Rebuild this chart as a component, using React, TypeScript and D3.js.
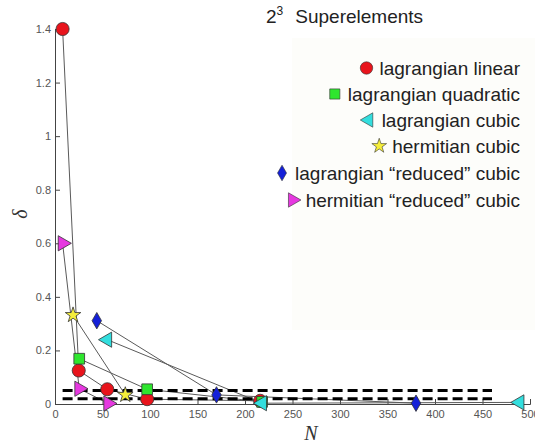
import React, { useEffect, useRef } from 'react';
import * as d3 from 'd3';

// values: [N, delta]
const linearPts = [[8, 1.4], [25, 0.125], [55, 0.055], [97, 0.018], [216, 0.012]];
const quadraticPts = [[25.5, 0.169], [97, 0.055], [218, 0.008]];
const cubicPts = [[55, 0.24], [218, 0.003], [489, 0.006]];
const hermitePts = [[19, 0.332], [74, 0.034]];
const redCubicPts = [[44, 0.311], [170, 0.034], [380, 0.003]];
const redHermitePts = [[8, 0.6], [25.5, 0.057], [56, 0.002]];

const seriesNames = [
  'lagrangian linear',
  'lagrangian quadratic',
  'lagrangian cubic',
  'hermitian cubic',
  'lagrangian \u201creduced\u201d cubic',
  'hermitian \u201creduced\u201d cubic',
];
const thresholds = [0.05, 0.02];
const xTicks = [0, 50, 100, 150, 200, 250, 300, 350, 400, 450, 500];
const yTicks = [0, 0.2, 0.4, 0.6, 0.8, 1, 1.2, 1.4];

function App() {
  const svgRef = useRef(null);

  useEffect(() => {
    const svg = d3.select(svgRef.current);
    svg.selectAll('*').remove();

    const x = d3.scaleLinear().domain([0, 500]).range([55, 530]);
    const y = d3.scaleLinear().domain([0, 1.4]).range([404, 29]);

    // faint patch behind legend (jpeg background)
    svg.append('rect').attr('x', 292).attr('y', 38).attr('width', 243).attr('height', 292).attr('fill', '#fdfdfa');

    const axisCol = '#444';
    const yAxis = svg.append('g').attr('transform', 'translate(55,0)')
      .call(d3.axisLeft(y).tickValues(yTicks).tickSize(-5).tickPadding(4).tickFormat(d3.format('')));
    const xAxis = svg.append('g').attr('transform', 'translate(0,404)')
      .call(d3.axisBottom(x).tickValues(xTicks).tickSize(-5).tickPadding(6));
    [yAxis, xAxis].forEach((g) => {
      g.select('.domain').attr('stroke', axisCol);
      g.selectAll('.tick line').attr('stroke', axisCol);
      g.selectAll('.tick text').attr('fill', '#555').attr('font-size', 11).attr('font-family', 'Liberation Sans, Arial, sans-serif');
    });

    const series = [
      { pts: linearPts, fill: '#e8141c', sym: d3.symbolCircle, size: 135, rot: 0 },
      { pts: quadraticPts, fill: '#2ee62e', sym: d3.symbolSquare, size: 115, rot: 0 },
      { pts: cubicPts, fill: '#33dede', sym: d3.symbolTriangle, size: 100, rot: -90 },
      { pts: hermitePts, fill: '#f5ee3a', sym: d3.symbolStar, size: 75, rot: 0 },
      { pts: redCubicPts, fill: '#1420d8', sym: d3.symbolDiamond, size: 78, rot: 0 },
      { pts: redHermitePts, fill: '#e638e0', sym: d3.symbolTriangle, size: 100, rot: 90 },
    ];

    const line = d3.line().x((d) => x(d[0])).y((d) => y(d[1]));

    // connecting lines
    series.forEach((s) => {
      svg.append('path').attr('d', line(s.pts)).attr('fill', 'none')
        .attr('stroke', '#5a5a5a').attr('stroke-width', 1);
    });

    // threshold dashed lines
    thresholds.forEach((t) => {
      svg.append('line').attr('x1', x(8)).attr('x2', x(460)).attr('y1', y(t)).attr('y2', y(t))
        .attr('stroke', '#000').attr('stroke-width', 3).attr('stroke-dasharray', '10,5');
    });

    // markers
    series.forEach((s) => {
      const sym = d3.symbol().type(s.sym).size(s.size);
      svg.append('g').selectAll('path').data(s.pts).join('path')
        .attr('d', sym())
        .attr('transform', (d) => `translate(${x(d[0])},${y(d[1])}) rotate(${s.rot})`)
        .attr('fill', s.fill).attr('stroke', '#333').attr('stroke-width', 0.8);
    });

    // title
    const title = svg.append('text').attr('x', 266).attr('y', 23)
      .attr('font-family', 'Liberation Sans, Arial, sans-serif').attr('font-size', 19).attr('fill', '#222');
    title.append('tspan').text('2');
    title.append('tspan').attr('dy', -8).attr('font-size', 12).text('3');
    title.append('tspan').attr('dy', 8).attr('dx', 12).text('Superelements');

    // legend
    const legendY = [68, 94, 120, 146, 173, 200];
    series.forEach((s, i) => {
      const t = svg.append('text').attr('x', 520).attr('y', legendY[i] + 7)
        .attr('text-anchor', 'end').attr('font-family', 'Liberation Sans, Arial, sans-serif')
        .attr('font-size', 19).attr('fill', '#222').text(seriesNames[i]);
      const w = t.node().getComputedTextLength();
      const sym = d3.symbol().type(s.sym).size(s.size * 0.9);
      svg.append('path').attr('d', sym())
        .attr('transform', `translate(${520 - w - 13},${legendY[i]}) rotate(${s.rot})`)
        .attr('fill', s.fill).attr('stroke', '#333').attr('stroke-width', 0.6);
    });

    // axis labels
    svg.append('text').attr('x', 311).attr('y', 440).attr('text-anchor', 'middle')
      .attr('font-family', 'Liberation Serif, Times New Roman, serif').attr('font-style', 'italic')
      .attr('font-size', 20).attr('fill', '#333').text('N');
    svg.append('text').attr('transform', 'translate(27,214) rotate(-90)').attr('text-anchor', 'middle')
      .attr('font-family', 'Liberation Serif, Times New Roman, serif').attr('font-style', 'italic')
      .attr('font-size', 20).attr('fill', '#333').text('\u03b4');
  }, []);

  return (
    <svg ref={svgRef} width={535} height={445}
      style={{ position: 'absolute', left: 0, top: 0, background: '#fff' }} />
  );
}

export default App;
